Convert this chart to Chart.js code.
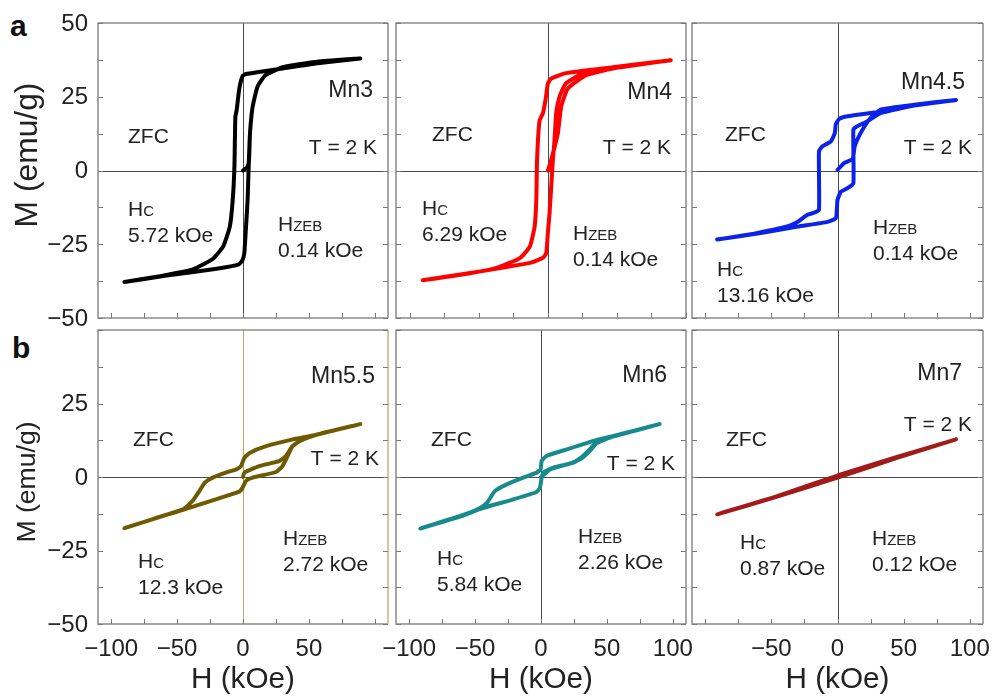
<!DOCTYPE html>
<html>
<head>
<meta charset="utf-8">
<script src="https://cdn.jsdelivr.net/npm/chart.js@4.4.0/dist/chart.umd.min.js"></script>
<style>
  body { margin: 0; background: #fff; }
  #figure { position: relative; width: 993px; height: 697px; overflow: hidden; font-family: "Liberation Sans", Arial, sans-serif; }
  #figure canvas { position: absolute; }
  .tag { position: absolute; font-weight: bold; font-size: 30px; line-height: 30px; color: #111; }
</style>
</head>
<body>
<div id="figure">
  <div class="tag" style="left:10px;top:11px">a</div>
  <div class="tag" style="left:12px;top:333px">b</div>
</div>
<script>
// M-H loops at 2 K: virgin curve, then +H -> -H branch, then -H -> +H branch
const mn3H = [0, 3, 4.5, 5.3, 7.3, 11, 17, 30, 55, 89,
  55, 30, 12, 2.3, -0.3, -2.8, -4.8, -5.8, -6.5, -7.8, -10, -15, -23, -38, -63, -90,
  -58, -20, -3, -0.5, 1, 2.3, 3.5, 4.3, 5.3, 7.3, 11, 17, 30, 55, 89];
const mn3M = [0, 1, 3, 12.6, 21.6, 28.4, 32.3, 35, 36.8, 38,
  36.3, 34.6, 33.4, 32.7, 32, 27.8, 20.5, 18.2, 1.4, -10, -19, -25.7, -30, -33.5, -35.8, -37.8,
  -35.6, -33.3, -31.8, -30.5, -28, -19, -10, 1.4, 12.6, 21.6, 28.4, 32.3, 35, 36.8, 38];

const mn4H = [0, 2.4, 7.2, 9.6, 14.4, 27.6, 47, 89,
  47, 13, 2.4, 0, -1.7, -3.6, -6, -7.2, -8, -8.4, -9.6, -13, -20, -37, -61, -90.6,
  -49, -13, -3.6, -1.2, 0, 1.2, 2.4, 3.6, 4.8, 6, 8.4, 13, 23, 47, 89];
const mn4M = [0, 3.6, 12.6, 21.6, 27.8, 32.3, 34.6, 37.4,
  35, 33, 31.2, 29.5, 24, 19.4, 17, 10.4, 1.4, -10, -19, -25.7, -29.6, -33, -35.2, -37.2,
  -34.2, -31.3, -29.6, -28, -21, -14.4, -5.4, 3.6, 10.4, 19.4, 25, 29.5, 32.3, 34.6, 37.4];

const mn45H = [0, 5, 11.4, 13, 15, 19, 25, 33, 58, 89.6,
  58, 33, 7.6, 1.3, -1.3, -2, -5, -11.4, -14, -14, -17.7, -22.7, -30, -38, -63, -91,
  -55.6, -30, -7.6, -1.3, -0.5, 0, 2.5, 7.6, 12, 12, 15, 22.7, 33, 58, 89.6];
const mn45M = [0.2, 2.5, 3.9, 8.2, 10.5, 13.9, 17.8, 20.7, 22.3, 23.9,
  22, 20, 18.4, 17.5, 15.6, 12.7, 9.9, 8.2, 6.5, -13.4, -14.3, -15, -17.4, -19, -21.4, -23.4,
  -21, -19, -17.4, -16.2, -13.4, -10, -7.2, -6, -4.3, 13.9, 15, 16.7, 19.5, 22, 23.9];

const mn55H = [0, 1, 12.3, 27.4, 32.4, 37.4, 42.5, 55, 89,
  55, 37, 17, 5, 1, -1.5, -5, -13, -23, -29, -33, -38, -45, -58, -90,
  -58, -45, -20, -2.8, -0.3, 2.3, 7.3, 25, 30, 33.7, 37.4, 42.5, 55, 89];
const mn55M = [0, 1.5, 3.7, 5.4, 7, 10.4, 12.1, 14.3, 18,
  14.3, 12.7, 10.4, 8.2, 6.5, 3.7, 2.6, 1.5, -0.2, -1.9, -4.7, -8, -10.9, -12.8, -17.4,
  -12.9, -11.1, -7.5, -5, -3.6, -1.3, -0.2, 1.7, 3.7, 7, 10.4, 12.1, 14.3, 18];

const mn6H = [0, 6.9, 19.5, 29.7, 37, 42, 55, 90,
  55, 40, 19.5, 4.3, 0.5, -0.3, -3.3, -13.5, -26, -35, -41, -46.5, -59, -91.6,
  -59, -46.5, -21, -3.3, -0.8, 0.5, 1.8, 9.4, 24.6, 32, 37, 42, 55, 90];
const mn6M = [0, 2.6, 4.3, 6, 8.8, 11.5, 13.8, 18,
  14, 12.3, 9.4, 7.2, 5.5, 2.6, 1.5, -0.2, -2.5, -4.8, -8.8, -10.6, -12.9, -17.5,
  -13.1, -10.9, -7.6, -5.1, -3.6, -0.2, 1.5, 3.2, 4.9, 7.2, 9.4, 11.7, 13.9, 18];

const mn7H = [0, 20, 45, 89.6, 45, 0, -45, -91, -45, 0, 45, 89.6];
const mn7M = [0, 3.2, 6.6, 12.8, 6.8, 0.5, -6.4, -12.7, -6.6, -0.2, 6.5, 12.8];

const sampleNames = ['Mn3', 'Mn4', 'Mn4.5', 'Mn5.5', 'Mn6', 'Mn7'];
const coercivity = ['5.72', '6.29', '13.16', '12.3', '5.84', '0.87'];
const exchangeBias = ['0.14', '0.14', '0.14', '2.72', '2.26', '0.12'];

const xTickMarks = [-100, -75, -50, -25, 0, 25, 50, 75, 100];
const yTickMarks = [-50, -37.5, -25, -12.5, 0, 12.5, 25, 37.5, 50];

// plot box edges on the page
const colLeft = [98, 396, 692];
const colRight = [388, 686, 983];
const rowTop = [23, 330];
const rowBottom = [318, 624];

// axis title placement: centre on the page and drawn length
const yTitleCentre = [155, 482];
const yTitleLength = [145, 121];
const xTitleY = 680;
const xTitleLength = 104;

const FONT = '"Liberation Sans", Arial, sans-serif';
const TEXT = '#222';

// [text, small-caps suffix, dx, dy, side, size]; dx is from the right edge when side is 'R'
function notes(i, pos) {
  return [
    [sampleNames[i], '', pos.mn[0], pos.mn[1], 'R', 23],
    ['ZFC', '', pos.zfc[0], pos.zfc[1], 'L', 21],
    ['T = 2 K', '', pos.t[0], pos.t[1], 'R', 21],
    ['H', 'C', pos.hc[0], pos.hc[1], 'L', 21],
    [coercivity[i] + ' kOe', '', pos.hc[0], pos.hc[1] + 26, 'L', 21],
    ['H', 'ZEB', pos.eb[0], pos.eb[1], 'L', 21],
    [exchangeBias[i] + ' kOe', '', pos.eb[0], pos.eb[1] + 26, 'L', 21]
  ];
}

const panels = [
  { H: mn3H, M: mn3M, color: '#000000', col: 0, row: 0, xMin: -110, xMax: 110,
    xShown: [], yShown: [50, 25, 0, -25, -50],
    notes: notes(0, { mn: [15, 66], zfc: [30, 112], t: [11, 123], hc: [30, 185], eb: [180, 200] }) },
  { H: mn4H, M: mn4M, color: '#ff0000', col: 1, row: 0, xMin: -110, xMax: 100,
    xShown: [], yShown: [],
    notes: notes(1, { mn: [14, 68], zfc: [36, 110], t: [15, 123], hc: [26, 184], eb: [177, 209] }) },
  { H: mn45H, M: mn45M, color: '#0b22e8', col: 2, row: 0, xMin: -110, xMax: 110,
    xShown: [], yShown: [],
    notes: notes(2, { mn: [18, 58], zfc: [33, 110], t: [11, 123], hc: [25, 245], eb: [181, 203] }) },
  { H: mn55H, M: mn55M, color: '#6e5a00', col: 0, row: 1, xMin: -110, xMax: 110,
    xShown: [-100, -50, 0, 50], yShown: [25, 0, -25, -50],
    zeroX: '#bfa868', frameRight: '#c8b47a',
    notes: notes(3, { mn: [13, 45], zfc: [35, 108], t: [9, 127], hc: [40, 230], eb: [185, 207] }) },
  { H: mn6H, M: mn6M, color: '#178a8e', col: 1, row: 1, xMin: -110, xMax: 110,
    xShown: [-100, -50, 0, 50, 100], yShown: [],
    notes: notes(4, { mn: [19, 44], zfc: [35, 108], t: [11, 132], hc: [41, 227], eb: [182, 205] }) },
  { H: mn7H, M: mn7M, color: '#a31a1a', col: 2, row: 1, xMin: -110, xMax: 110,
    xShown: [-50, 0, 50, 100], yShown: [],
    notes: notes(5, { mn: [21, 42], zfc: [34, 108], t: [11, 93], hc: [48, 211], eb: [180, 207] }) }
];

function fmt(v) {
  return v < 0 ? '\u2212' + Math.abs(v) : String(v);
}

// pick a font size so the text spans the given length
function fitFont(ctx, text, length) {
  ctx.font = '28px ' + FONT;
  const size = 28 * length / ctx.measureText(text).width;
  ctx.font = size.toFixed(1) + 'px ' + FONT;
}

// frame, zero lines, inward tick marks, tick labels, titles and the text inside each panel
function decor(p, origin) {
  return {
    id: 'decor',
    beforeDatasetsDraw(chart) {
      const { ctx, chartArea: a, scales: { x, y } } = chart;
      ctx.save();
      ctx.lineWidth = 1;
      const x0 = Math.round(x.getPixelForValue(0)) + 0.5;
      const y0 = Math.round(y.getPixelForValue(0)) + 0.5;
      ctx.strokeStyle = p.zeroX || '#4a4a4a';
      ctx.beginPath(); ctx.moveTo(x0, a.top); ctx.lineTo(x0, a.bottom); ctx.stroke();
      ctx.strokeStyle = '#4a4a4a';
      ctx.beginPath(); ctx.moveTo(a.left, y0); ctx.lineTo(a.right, y0); ctx.stroke();
      ctx.restore();
    },
    afterDatasetsDraw(chart) {
      const { ctx, chartArea: a, scales: { x, y } } = chart;
      ctx.save();
      ctx.lineWidth = 1.5;
      ctx.strokeStyle = '#8a8a8a';
      ctx.beginPath();
      ctx.moveTo(a.right, a.top); ctx.lineTo(a.left, a.top);
      ctx.lineTo(a.left, a.bottom); ctx.lineTo(a.right, a.bottom);
      ctx.stroke();
      ctx.strokeStyle = p.frameRight || '#8a8a8a';
      ctx.beginPath(); ctx.moveTo(a.right, a.top); ctx.lineTo(a.right, a.bottom); ctx.stroke();

      ctx.lineWidth = 1;
      ctx.strokeStyle = '#7a7a7a';
      ctx.beginPath();
      yTickMarks.forEach((v) => {
        const py = Math.round(y.getPixelForValue(v)) + 0.5;
        ctx.moveTo(a.left, py); ctx.lineTo(a.left + 5, py);
        ctx.moveTo(a.right, py); ctx.lineTo(a.right - 5, py);
      });
      xTickMarks.forEach((v) => {
        if (v < x.min || v > x.max) return;
        const px = Math.round(x.getPixelForValue(v)) + 0.5;
        ctx.moveTo(px, a.bottom); ctx.lineTo(px, a.bottom - 5);
      });
      ctx.stroke();

      // tick labels
      ctx.fillStyle = TEXT;
      ctx.font = '24px ' + FONT;
      ctx.textBaseline = 'middle';
      ctx.textAlign = 'right';
      p.yShown.forEach((v) => ctx.fillText(fmt(v), a.left - 10, y.getPixelForValue(v) + 1));
      ctx.textAlign = 'center';
      p.xShown.forEach((v) => ctx.fillText(fmt(v), x.getPixelForValue(v), a.bottom + 25));

      // axis titles
      if (p.row === 1) {
        fitFont(ctx, 'H (kOe)', xTitleLength);
        ctx.fillText('H (kOe)', (a.left + a.right) / 2, xTitleY - origin.top);
      }
      if (p.col === 0) {
        ctx.save();
        fitFont(ctx, 'M (emu/g)', yTitleLength[p.row]);
        ctx.translate(28 - origin.left, yTitleCentre[p.row] - origin.top);
        ctx.rotate(-Math.PI / 2);
        ctx.fillText('M (emu/g)', 0, 0);
        ctx.restore();
      }

      // panel notes
      ctx.textBaseline = 'alphabetic';
      p.notes.forEach(([text, sub, dx, dy, side, size]) => {
        ctx.font = size + 'px ' + FONT;
        const base = a.top + dy + size * 0.36;
        if (side === 'R') {
          ctx.textAlign = 'right';
          ctx.fillText(text, a.right - dx, base);
          return;
        }
        ctx.textAlign = 'left';
        const left = a.left + dx;
        ctx.fillText(text, left, base);
        if (sub) {
          const w = ctx.measureText(text).width;
          ctx.font = Math.round(size * 0.72) + 'px ' + FONT;
          ctx.fillText(sub, left + w, base);
        }
      });
      ctx.restore();
    }
  };
}

function buildPanel(p) {
  const yW = p.col === 0 ? 98 : 40;
  const padTop = p.row === 0 ? 23 : 20;
  const padRight = 10;
  const padBottom = p.row === 0 ? 14 : 73;
  const left = colLeft[p.col] - yW;
  const top = rowTop[p.row] - padTop;
  const width = colRight[p.col] + padRight - left;
  const height = rowBottom[p.row] + padBottom - top;

  const canvas = document.createElement('canvas');
  canvas.width = width;
  canvas.height = height;
  canvas.style.left = left + 'px';
  canvas.style.top = top + 'px';
  canvas.style.width = width + 'px';
  canvas.style.height = height + 'px';
  document.getElementById('figure').appendChild(canvas);

  new Chart(canvas, {
    type: 'scatter',
    data: {
      datasets: [{
        data: p.H.map((h, i) => ({ x: h, y: p.M[i] })),
        showLine: true,
        borderColor: p.color,
        borderWidth: 4,
        pointRadius: 0,
        tension: 0.15,
        borderJoinStyle: 'round',
        borderCapStyle: 'round'
      }]
    },
    options: {
      responsive: false,
      animation: false,
      events: [],
      layout: { padding: { top: padTop, right: padRight, bottom: padBottom, left: yW } },
      plugins: { legend: { display: false }, tooltip: { enabled: false } },
      scales: {
        x: { type: 'linear', display: false, min: p.xMin, max: p.xMax },
        y: { type: 'linear', display: false, min: -50, max: 50 }
      }
    },
    plugins: [decor(p, { left, top })]
  });
}

panels.forEach(buildPanel);
</script>
</body>
</html>
